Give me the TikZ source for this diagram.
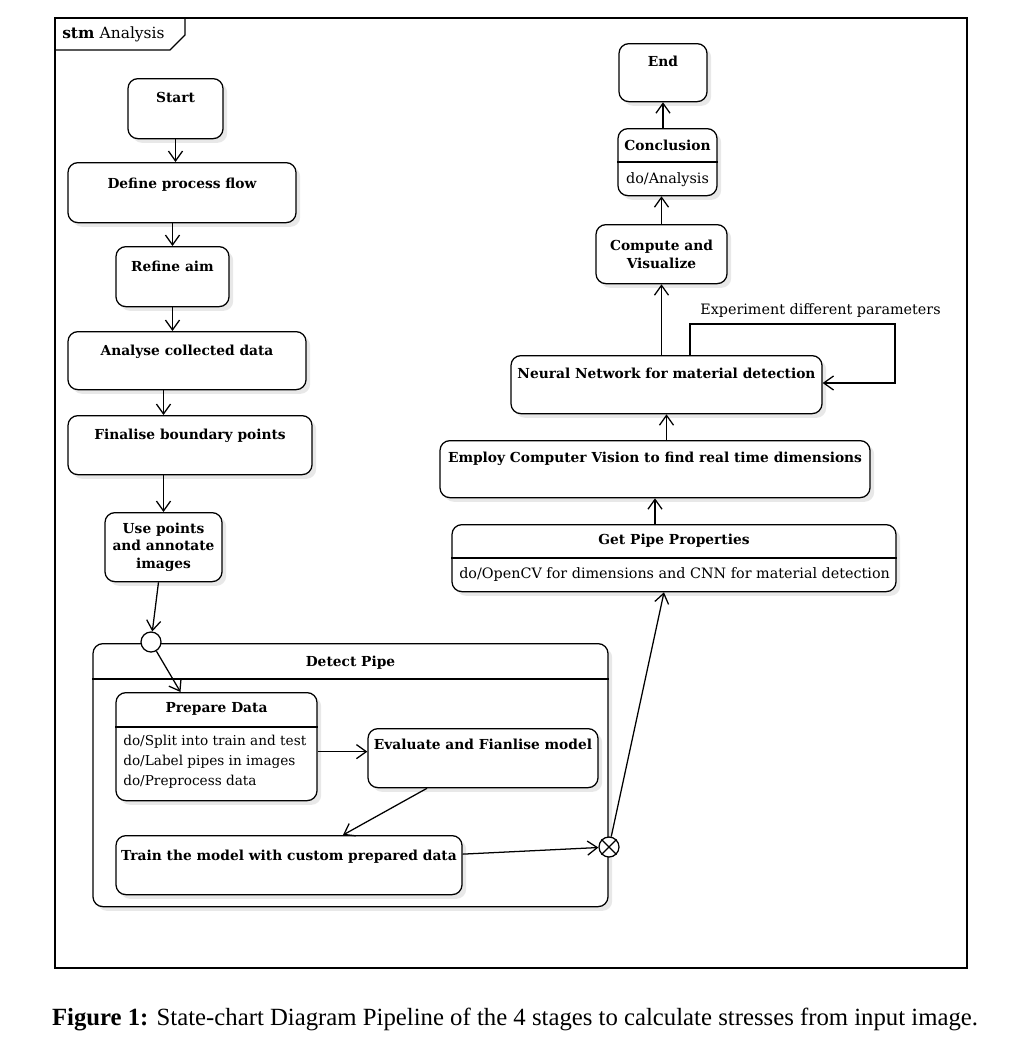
\documentclass[tikz,border=0pt]{standalone}
\usepackage{fontspec}
\setmainfont{DejaVu Serif}
\newfontfamily\capfont{Liberation Serif}
\usepackage{tikz}
\usetikzlibrary{positioning,arrows.meta,shadows,calc}
\newdimen\pxunit
\pxunit=0.025cm
\tikzset{
  stbox/.style={draw, line width=0.9pt, rounded corners=7pt, fill=white, inner sep=0pt, anchor=north,
    font=\fontsize{9.8}{12.5}\selectfont\bfseries,
    drop shadow={shadow xshift=3pt, shadow yshift=-3pt, fill=black!15, opacity=0.6}},
  stitle/.style={font=\fontsize{9.8}{12.5}\selectfont\bfseries, inner sep=0pt},
  sbody/.style={font=\fontsize{10.2}{14}\selectfont, inner sep=0pt},
  trans/.style={-{Straight Barb[length=7pt,width=10pt]}, line width=0.9pt},
  pseudo/.style={draw, circle, fill=white, line width=0.9pt, minimum size=20\pxunit, inner sep=0pt},
}

\begin{document}
\begin{tikzpicture}[x=0.025cm, y=-0.025cm]
\useasboundingbox (0,0) rectangle (1012,1048);

\draw[line width=0.9pt] (55,18) rectangle (967,968);
\draw[line width=0.9pt] (55,50) -- (170,50) -- (185,35) -- (185,18);
\node[anchor=west, inner sep=0pt, font=\fontsize{11}{13}\selectfont] (frametitle) at (62,34) {\textbf{stm}\,\,Analysis};

\node[stbox, minimum width=95\pxunit, text height=24\pxunit, text depth=36\pxunit] (start) at (175.5,78) {Start};
\node[stbox, minimum width=228\pxunit, text height=26\pxunit, text depth=34\pxunit] (define) at (182,162) {Define process flow};
\node[stbox, minimum width=113\pxunit, text height=25\pxunit, text depth=35\pxunit] (refine) at (172.5,246) {Refine aim};
\node[stbox, minimum width=238\pxunit, text height=24\pxunit, text depth=34\pxunit] (analyse) at (187,331) {Analyse collected data};
\node[stbox, minimum width=244\pxunit, text height=24\pxunit, text depth=35\pxunit] (finalise) at (190,415) {Finalise boundary points};
\node[stbox, minimum width=117\pxunit, minimum height=69\pxunit, align=center] (use) at (163.5,512) {Use points\\and annotate\\images};

\node[stbox, minimum width=515\pxunit, text height=23\pxunit, text depth=240\pxunit] (detect) at (350.5,643) {Detect Pipe};
\draw[line width=0.9pt] ([yshift=-36\pxunit]detect.north west) -- ([yshift=-36\pxunit]detect.north east);
\node[pseudo] (entry) at (151,642) {};

\node[stbox, minimum width=201\pxunit, minimum height=108\pxunit] (prep) at (216.5,692) {};
\draw[line width=0.9pt] ([yshift=-35\pxunit]prep.north west) -- ([yshift=-35\pxunit]prep.north east);
\node[stitle] (prept) at (216.5,709) {Prepare Data};
\node[sbody, font=\fontsize{9.7}{14}\selectfont, align=left, anchor=north west] (prepb) at (123,735) {do/Split into train and test\\do/Label pipes in images\\do/Preprocess data};

\node[stbox, minimum width=230\pxunit, text height=21\pxunit, text depth=38\pxunit] (eval) at (483,728) {Evaluate and Fianlise model};
\node[stbox, minimum width=346\pxunit, text height=25\pxunit, text depth=34\pxunit] (train) at (289,835) {Train the model with custom prepared data};
\node[pseudo] (exit) at (609,847) {};
\draw[line width=0.9pt] (exit.north west) -- (exit.south east) (exit.north east) -- (exit.south west);

\node[stbox, minimum width=444\pxunit, minimum height=67\pxunit] (gpp) at (674,524) {};
\draw[line width=0.9pt] ([yshift=-34\pxunit]gpp.north west) -- ([yshift=-34\pxunit]gpp.north east);
\node[stitle] (gppt) at (674,541) {Get Pipe Properties};
\node[sbody, anchor=west] (gppb) at (459,575) {do/OpenCV for dimensions and CNN for material detection};

\node[stbox, minimum width=430\pxunit, text height=22\pxunit, text depth=35\pxunit] (employ) at (655,440) {Employ Computer Vision to find real time dimensions};
\node[stbox, minimum width=311\pxunit, text height=23\pxunit, text depth=35\pxunit] (nn) at (666.5,355) {Neural Network for material detection};
\node[stbox, minimum width=131\pxunit, minimum height=59\pxunit, align=center] (comp) at (661.5,224) {Compute and\\Visualize};

\node[stbox, minimum width=99\pxunit, minimum height=67\pxunit] (concl) at (667.5,128) {};
\draw[line width=0.9pt] ([yshift=-34\pxunit]concl.north west) -- ([yshift=-34\pxunit]concl.north east);
\node[stitle] (conclt) at (667.5,145) {Conclusion};
\node[sbody] (conclb) at (667.5,180) {do/Analysis};

\node[stbox, minimum width=88\pxunit, text height=23\pxunit, text depth=35\pxunit] (end) at (663,43) {End};

\draw[trans] (start.south) -- (start.south |- define.north);
\draw[trans] (refine.north |- define.south) -- (refine.north);
\draw[trans] (refine.south) -- (refine.south |- analyse.north);
\draw[trans] (analyse.south -| use.north) -- (finalise.north -| use.north);
\draw[trans] (use.north |- finalise.south) -- (use.north);
\draw[trans] ([xshift=-5\pxunit]use.south) -- (entry);
\draw[trans] (entry) -- ([xshift=-36\pxunit]prep.north);
\draw[trans] ([yshift=-5\pxunit]prep.east) -- ([yshift=-5\pxunit]prep.east -| eval.west);
\draw[trans] ([xshift=-56\pxunit]eval.south) -- ([xshift=54\pxunit]train.north);
\draw[trans] ([yshift=11\pxunit]train.east) -- (exit);
\draw[trans] (exit) -- ([xshift=-10\pxunit]gpp.south);
\draw[trans] (employ.south |- gpp.north) -- (employ.south);
\draw[trans] (nn.south |- employ.north) -- (nn.south);
\draw[trans] (comp.south |- nn.north) -- (comp.south);
\draw[trans] (comp.north) -- (comp.north |- concl.south);
\draw[trans] (end.south |- concl.north) -- (end.south);

\coordinate (loopa) at (690,324);
\coordinate (loopb) at (895,383);
\draw[trans] (nn.north -| loopa) -- (loopa) -| (loopb) -- (nn.east |- loopb);
\node[sbody, anchor=west] (looplabel) at (700,311) {Experiment different parameters};

\node[font=\capfont\fontsize{17.6}{20}\selectfont, inner sep=0pt] (caption) at (515,1020) {\textbf{Figure 1:} State-chart Diagram Pipeline of the 4 stages to calculate stresses from input image.};
\end{tikzpicture}
\end{document}
